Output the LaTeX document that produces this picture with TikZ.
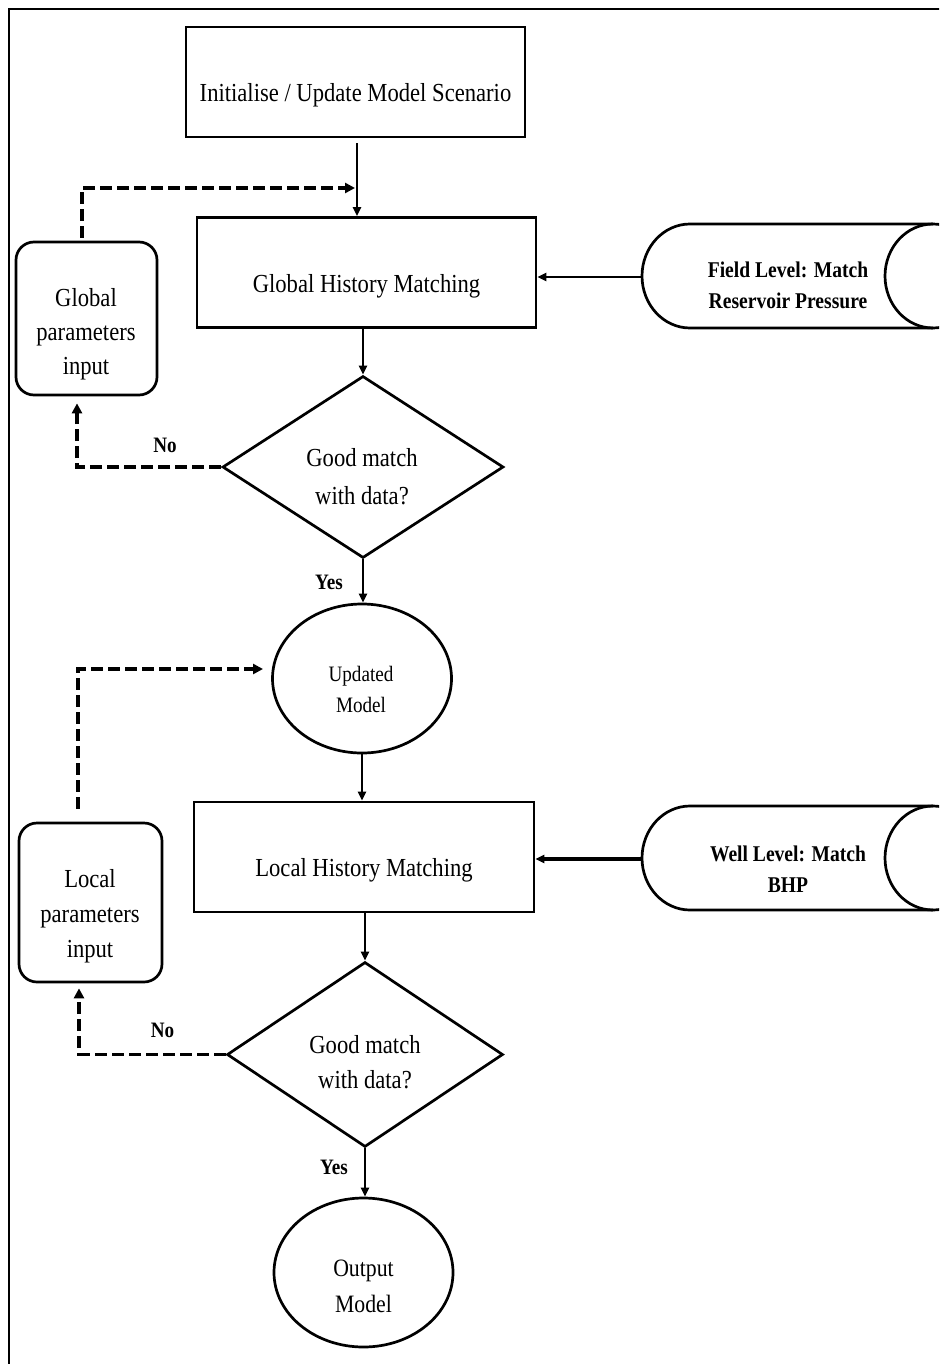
\documentclass[tikz,border=0pt]{standalone}
\usepackage{fontspec}
\setmainfont{Liberation Serif}[FakeStretch=0.87]
\usetikzlibrary{arrows.meta,shapes.geometric}
\tikzset{
  shapeline/.style={draw,line width=2.7pt,inner sep=0pt},
  rbox/.style={shapeline,rectangle,rounded corners=18pt},
  txt/.style={inner sep=0pt,align=center,font=\fontsize{26}{35}\selectfont},
  btxt/.style={inner sep=0pt,align=center,font=\fontsize{22.5}{31}\selectfont\bfseries},
  lab/.style={inner sep=0pt,font=\fontsize{22}{26}\selectfont\bfseries},
  conn/.style={line width=2.2pt,-{Triangle[length=9pt,width=8pt]}},
  dconn/.style={line width=3.8pt,dash pattern=on 12pt off 5pt,-{Triangle[length=10pt,width=10pt]}},
  cylline/.style={line width=2.7pt}
}
\begin{document}
\begin{tikzpicture}[x=1pt,y=-1pt]
\useasboundingbox (0,0) rectangle (939,1364);
\clip (0,0) rectangle (939,1364);
% outer frame
\draw[line width=2.7pt] (9,1370) -- (9,9) -- (945,9);

% main boxes
\node[shapeline,rectangle,minimum width=339pt,minimum height=110pt] (init) at (355.5,82) {};
\node[txt] (initT) at (355.5,95.5) {Initialise / Update Model Scenario};

\node[shapeline,rectangle,minimum width=339pt,minimum height=110pt] (glob) at (366.5,272.5) {};
\node[txt] (globT) at (366.5,286) {Global History Matching};

\node[rbox,minimum width=141pt,minimum height=153pt] (gpar) at (86.5,318.5) {};
\node[txt,font=\fontsize{26}{34}\selectfont] (gparT) at (86,334) {Global\\parameters\\input};

\node[shapeline,diamond,minimum width=281pt,minimum height=182pt] (d1) at (363,467) {};
\node[txt,font=\fontsize{26}{38}\selectfont] (d1T) at (362,477) {Good match\\with data?};

\node[shapeline,ellipse,minimum width=179pt,minimum height=149pt] (upd) at (362,678.5) {};
\node[txt,font=\fontsize{22}{31}\selectfont] (updT) at (361,689) {Updated\\Model};

\node[shapeline,rectangle,minimum width=340pt,minimum height=110pt] (loc) at (364,857) {};
\node[txt] (locT) at (364,870.5) {Local History Matching};

\node[rbox,minimum width=143pt,minimum height=159pt] (lpar) at (90.5,902.5) {};
\node[txt] (lparT) at (90,916) {Local\\parameters\\input};

\node[shapeline,diamond,minimum width=276pt,minimum height=185pt] (d2) at (365,1054.5) {};
\node[txt] (d2T) at (365,1062) {Good match\\with data?};

\node[shapeline,ellipse,minimum width=179pt,minimum height=149pt] (out) at (363.5,1272.5) {};
\node[txt,font=\fontsize{25}{36}\selectfont] (outT) at (363.5,1286.5) {Output\\Model};

% cylinders
\draw[cylline] (690,224) arc[start angle=270,end angle=90,x radius=48,y radius=52]
  -- (933,328) arc[start angle=90,end angle=-90,x radius=48,y radius=52] -- cycle;
\draw[cylline] (933,224) arc[start angle=270,end angle=90,x radius=48,y radius=52];
\coordinate (cylF) at (642,277);
\node[btxt] (fieldT) at (788,285) {Field Level: Match\\Reservoir Pressure};

\draw[cylline] (690,806) arc[start angle=270,end angle=90,x radius=48,y radius=52]
  -- (933,910) arc[start angle=90,end angle=-90,x radius=48,y radius=52] -- cycle;
\draw[cylline] (933,806) arc[start angle=270,end angle=90,x radius=48,y radius=52];
\coordinate (cylW) at (642,859);
\node[btxt] (wellT) at (788,869) {Well Level: Match\\BHP};

% labels
\node[lab] (no1) at (165,445) {No};
\node[lab] (yes1) at (329,582.5) {Yes};
\node[lab] (no2) at (162.5,1030) {No};
\node[lab] (yes2) at (334,1167.5) {Yes};

% solid connectors
\draw[conn,shorten <=5pt] ([xshift=1.5pt]init.south) -- ([xshift=1.5pt]init.south |- glob.north);
\draw[conn,line width=2.7pt] (cylF) -- (cylF -| glob.east);
\draw[conn] (d1.north |- glob.south) -- (d1.north);
\draw[conn] (d1.south) -- (d1.south |- upd.north);
\draw[conn] (upd.south) -- (upd.south |- loc.north);
\draw[conn,line width=3.5pt] (cylW) -- (cylW -| loc.east);
\draw[conn] (d2.north |- loc.south) -- (d2.north);
\draw[conn] (d2.south) -- (d2.south |- out.north);

% dashed feedback connectors
\coordinate (gin) at (355,188);
\coordinate (uin) at (263,669);
\draw[dconn] ([xshift=-4.5pt,yshift=3pt]gpar.north) |- (gin);
\draw[dconn] (d1.west) -| ([xshift=-9.5pt,yshift=-7pt]gpar.south);
\draw[dconn] ([xshift=-12.5pt,yshift=13pt]lpar.north) |- (uin);
\draw[dconn] (d2.west) -| ([xshift=-11.5pt,yshift=-5pt]lpar.south);
\end{tikzpicture}
\end{document}
